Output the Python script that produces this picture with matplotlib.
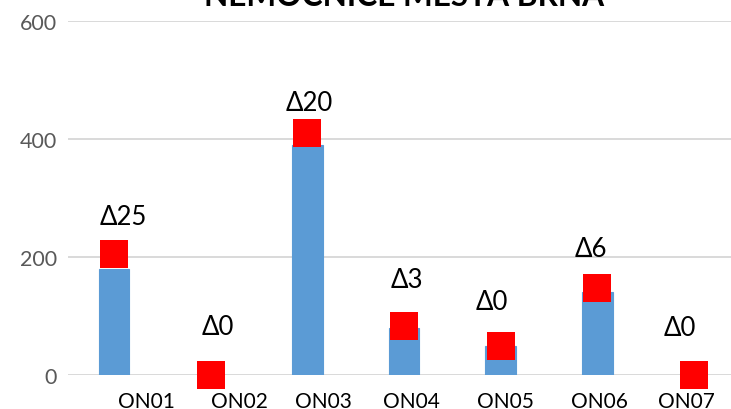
import numpy as np
import matplotlib.pyplot as plt

# data
categories = ["ON01", "ON02", "ON03", "ON04", "ON05", "ON06", "ON07"]
previous = [180, 0, 390, 80, 49, 141, 0]
current = [205, 0, 410, 83, 49, 147, 0]
delta_labels = ["Δ25", "Δ0", "Δ20", "Δ3", "Δ0", "Δ6", "Δ0"]
y_ticks = [0, 200, 400, 600]

# layout: hand-placed label offsets in the original (pixels)
delta_dx = [9, 7, 1.5, 2.5, -8.5, -6.5, -14]
delta_dy = [38, 48, 31, 47, 45, 40, 47]
cat_dx = [32, 29, 16, 7, 4.5, 2.5, -8]

plt.rcParams['font.family'] = ['Lato', 'DejaVu Sans']

fig = plt.figure(figsize=(7.31, 4.10), dpi=100)
ax = fig.add_axes([68 / 731, 34 / 410, 663 / 731, 354 / 410])

x = np.arange(len(categories))
ax.bar(x, previous, width=0.32, color="#5B9BD5", edgecolor="#5B9BD5",
       linewidth=0.8, zorder=2)
ax.scatter(x, current, marker="s", s=406, color="#FF0000", linewidths=0,
           zorder=3, clip_on=False)

for i, (val, lab) in enumerate(zip(current, delta_labels)):
    ax.annotate(lab, (x[i], val), xytext=(delta_dx[i], delta_dy[i]),
                textcoords="offset pixels", ha="center", va="center",
                fontsize=18.5, color="black")

# category labels sit off-centre under the bars in the original
for i, cat in enumerate(categories):
    ax.annotate(cat, (x[i], 0), xytext=(cat_dx[i], -32),
                textcoords="offset pixels", ha="center", va="baseline",
                fontsize=15, color="black", annotation_clip=False)

ax.set_xlim(-0.476, 6.383)
ax.set_ylim(0, 600)
ax.set_yticks(y_ticks)
ax.set_xticks(x)
ax.set_xticklabels([])
ax.tick_params(axis="y", length=0, pad=8, labelsize=15.5, labelcolor="#595959")
ax.tick_params(axis="x", length=0)

ax.yaxis.grid(True, color="#D9D9D9", linewidth=1.4)
ax.set_axisbelow(True)
for s in ax.spines.values():
    s.set_visible(False)

fig.text(404.5 / 731, 1 - 6 / 410, "NEMOCNICE MĚSTA BRNA", ha="center",
         va="baseline", fontsize=22.8, fontweight="bold", color="black")

fig.savefig("out.png", dpi=100)
